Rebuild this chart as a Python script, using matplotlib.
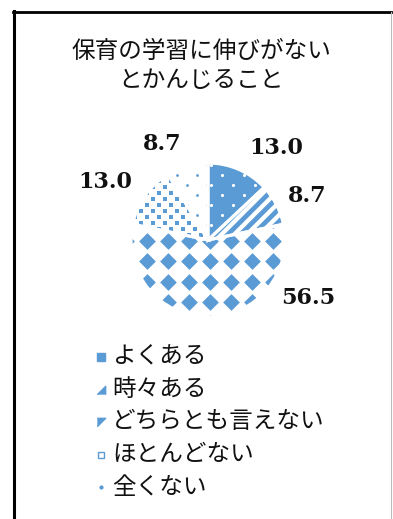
import numpy as np
import matplotlib
matplotlib.use("Agg")
import matplotlib.pyplot as plt
from matplotlib.lines import Line2D
from matplotlib.collections import LineCollection

plt.rcParams["font.family"] = ["Noto Sans CJK JP", "DejaVu Sans"]

# survey answers
categories = ["よくある", "時々ある", "どちらとも言えない", "ほとんどない", "全くない"]
values = [13.0, 8.7, 56.5, 13.0, 8.7]
title = "保育の学習に伸びがない\nとかんじること"

blue = "#5B9BD5"

W, H = 393, 519
fig = plt.figure(figsize=(W / 100, H / 100), dpi=100)

# pie axes: centre at (208, 240) px, radius 77 px
R = 77
L = 1.8
cx, cy = 208, 240
ax = fig.add_axes([(cx - L * R) / W, 1 - (cy + L * R) / H, 2 * L * R / W, 2 * L * R / H])

faces = [blue, "white", "white", "white", "white"]
wedges, _ = ax.pie(values, startangle=90, counterclock=False, colors=faces,
                   wedgeprops=dict(linewidth=0), radius=1)

px = 1.0 / R  # one pixel in data units


def lattice(dx, dy, shift):
    pts = []
    rows = np.arange(-1.1, 1.1 + dy, dy)
    for i, y in enumerate(rows):
        off = shift if i % 2 else 0
        xs = np.arange(-1.1 + off, 1.1 + dx, dx)
        pts += [(x, y) for x in xs]
    return np.array(pts)


# slice 1: white dots on blue
p = lattice(22 * px, 10 * px, 11 * px)
sc = ax.scatter(p[:, 0], p[:, 1], s=5, c="white", linewidths=0, zorder=2)
sc.set_clip_path(wedges[0])

# slice 2: diagonal blue stripes
segs = []
for c in np.arange(-2.5, 2.5, 9 * px * np.sqrt(2)):
    segs.append([(-1.2, -1.2 + c), (1.2, 1.2 + c)])
lc = LineCollection(segs, colors=blue, linewidths=3.4, zorder=2)
ax.add_collection(lc)
lc.set_clip_path(wedges[1])

# slice 3: large blue diamonds
diamond = [(0, 1), (1, 0), (0, -1), (-1, 0)]
p = lattice(21 * px, 20.5 * px, 0)
sc = ax.scatter(p[:, 0] + 3 * px, p[:, 1] + 2 * px, s=145, marker=diamond,
                c=blue, linewidths=0, zorder=2)
sc.set_clip_path(wedges[2])

# slice 4: small blue squares
p = lattice(12 * px, 6 * px, 6 * px)
sc = ax.scatter(p[:, 0], p[:, 1], s=11, marker="s", c=blue, linewidths=0, zorder=2)
sc.set_clip_path(wedges[3])

# slice 5: sparse blue dots
p = lattice(20 * px, 10 * px, 10 * px)
sc = ax.scatter(p[:, 0] + 4 * px, p[:, 1], s=4, c=blue, linewidths=0, zorder=2)
sc.set_clip_path(wedges[4])

# white separators between slices
ax.pie(values, startangle=90, counterclock=False, radius=1,
       wedgeprops=dict(fill=False, edgecolor="white", linewidth=2.2, zorder=3))

ax.set_xlim(-L, L)
ax.set_ylim(-L, L)
ax.set_aspect("equal")
ax.axis("off")

# data labels (x centre, baseline)
label_pos = [(0.88, 1.115), (1.29, 0.50), (1.305, -0.835), (-1.33, 0.68), (-0.60, 1.165)]
for v, (x, y) in zip(values, label_pos):
    ax.text(x, y, f"{v:.1f}", ha="center", va="baseline", fontsize=16,
            family="DejaVu Serif", fontweight="bold", color="#111111")

# title
fig.text(201 / W, 1 - 66 / H, title, ha="center", va="center", fontsize=17,
         linespacing=1.3, color="#111111")

# legend
row_y = 357
handles = [
    dict(marker="s", ms=6, mfc=blue, mec=blue),
    dict(marker=[(1, -1), (1, 1), (-1, -1)], ms=6, mfc=blue, mec=blue),
    dict(marker=[(-1, 1), (1, 1), (-1, -1)], ms=6, mfc=blue, mec=blue),
    dict(marker="s", ms=5, mfc="white", mec=blue, mew=1),
    dict(marker="o", ms=2, mfc=blue, mec=blue),
]
for i, (cat, h) in enumerate(zip(categories, handles)):
    y = 1 - (row_y + i * 32.5) / H
    fig.add_artist(Line2D([101 / W], [y], transform=fig.transFigure, linestyle="none", **h))
    fig.text(112 / W, y, cat, ha="left", va="center", fontsize=17, color="#111111")

# frame
fig.add_artist(Line2D([14 / W, 14 / W], [0, 1 - 11 / H], transform=fig.transFigure,
                      color="black", linewidth=2.2))
fig.add_artist(Line2D([13 / W, 391 / W], [1 - 12 / H, 1 - 12 / H], transform=fig.transFigure,
                      color="black", linewidth=2.0))
fig.add_artist(Line2D([391 / W, 391 / W], [0, 1 - 12 / H], transform=fig.transFigure,
                      color="#bbbbbb", linewidth=0.8))

fig.savefig("out.png", dpi=100)
